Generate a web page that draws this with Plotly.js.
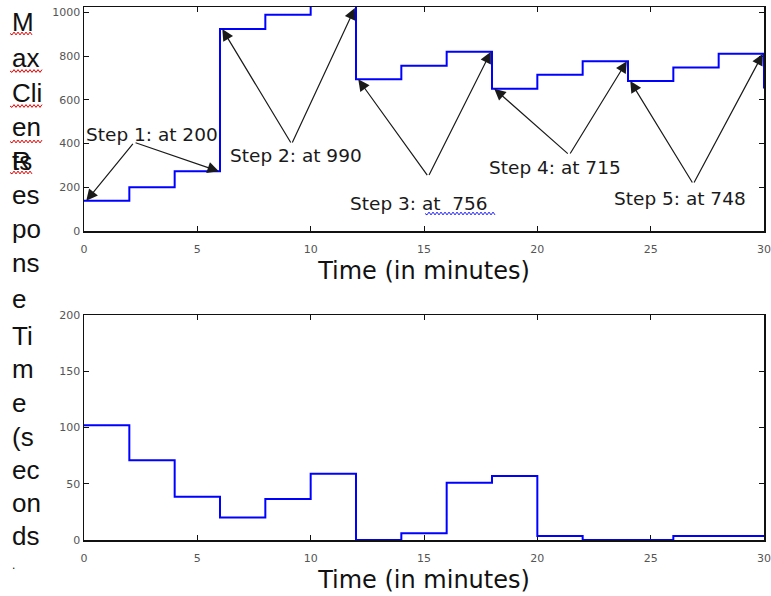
<!DOCTYPE html>
<html>
<head>
<meta charset="utf-8">
<script src="https://cdn.plot.ly/plotly-3.0.1.min.js"></script>
<style>
  html, body { margin: 0; padding: 0; background: #ffffff; }
  #chart { width: 771px; height: 596px; }
</style>
</head>
<body>
<div id="chart"></div>
<script>
// ---------------- data ----------------
const time = [0, 2, 4, 6, 8, 10, 12, 14, 16, 18, 20, 22, 24, 26, 28, 30];
const maxClients = [138, 200, 273, 924, 990, 1060, 694, 756, 820, 651, 715, 777, 686, 748, 811, 652];
const responseTime = [102, 71, 38.5, 20, 36.5, 59, 0, 6, 51, 57, 3.5, 0, 0, 3.5, 3.5, 3.5];
const stepLabels = ['Step 1: at 200', 'Step 2: at 990', 'Step 3: at\u00a0\u00a0756', 'Step 4: at 715', 'Step 5: at 748'];
const timeTicks = [0, 5, 10, 15, 20, 25, 30];
const clientTicks = [0, 200, 400, 600, 800, 1000];
const responseTicks = [0, 50, 100, 150, 200];
const yLabelLines = ['M', 'ax', 'Cli', 'en', 'ts', 'es', 'po', 'ns', 'e', 'Ti', 'm', 'e', '(s', 'ec', 'on', 'ds', '.'];
const xTitle = 'Time (in minutes)';

// ---------------- layout constants ----------------
const W = 771, H = 596;
const M = { l: 84, r: 7, t: 7, b: 56 };
const plotW = W - M.l - M.r, plotH = H - M.t - M.b;
const topRange = [0, 1025];
const botRange = [0, 200];
const stepsPerGroup = 3;

// label text centres and arrow tails (data coords of top subplot)
const labelPosX = [3.02, 9.35, 14.78, 20.78, 26.29];
const labelPosY = [443, 344, 125, 292, 147];
const tailX = [2.21, 9.16, 15.19, 21.41, 26.88];
const tailY = [406, 398, 249, 348, 215];

// left wrapped label: baselines in px, font sizes
const lineBaselines = [31, 67, 102, 136, 170, 204, 238, 272, 308, 345, 378, 412, 446, 479, 512, 545, 569];
const leftFont = 26;
const lastLineFont = 12;

function pxToPaperX(px) { return (px - M.l) / plotW; }
function pxToPaperY(py) { return (H - M.b - py) / plotH; }

function squiggle(x0, x1, y, color) {
  const amp = 1.4, half = 2;
  let d = 'M' + pxToPaperX(x0) + ',' + pxToPaperY(y);
  let k = 0;
  for (let x = x0 + half; x <= x1 + 0.01; x += half) {
    const yy = y + (k % 2 === 0 ? amp : -amp);
    d += ' L' + pxToPaperX(x) + ',' + pxToPaperY(yy);
    k++;
  }
  return { type: 'path', xref: 'paper', yref: 'paper', path: d,
           line: { color: color, width: 1 } };
}

const traces = [
  { x: time, y: maxClients, type: 'scatter', mode: 'lines', line: { shape: 'hv', color: '#0000ff', width: 2 },
    xaxis: 'x', yaxis: 'y', hoverinfo: 'x+y', showlegend: false },
  { x: time, y: responseTime, type: 'scatter', mode: 'lines', line: { shape: 'hv', color: '#0000ff', width: 2 },
    xaxis: 'x2', yaxis: 'y2', hoverinfo: 'x+y', showlegend: false }
];

const annotations = [];
const annFont = { family: 'DejaVu Sans, sans-serif', size: 18.5, color: '#1a1a1a' };
for (let g = 0; g < stepLabels.length; g++) {
  const i0 = g * stepsPerGroup;
  const heads = [
    { x: time[i0] + 0.1, y: Math.min(maxClients[i0], topRange[1] - 5) },
    { x: time[i0 + stepsPerGroup] - 0.05, y: Math.min(maxClients[i0 + stepsPerGroup - 1], topRange[1] - 5) }
  ];
  heads.forEach(h => annotations.push({
    xref: 'x', yref: 'y', axref: 'x', ayref: 'y',
    x: h.x, y: h.y, ax: tailX[g], ay: tailY[g], text: '',
    showarrow: true, arrowhead: 2, arrowsize: 1.9, arrowwidth: 1.2, arrowcolor: '#1a1a1a', standoff: 0
  }));
  annotations.push({
    xref: 'x', yref: 'y', x: labelPosX[g], y: labelPosY[g], text: stepLabels[g],
    showarrow: false, xanchor: 'center', yanchor: 'middle', font: annFont
  });
}

yLabelLines.forEach((t, i) => {
  const isLast = i === yLabelLines.length - 1;
  const size = isLast ? lastLineFont : leftFont;
  const font = { family: 'Liberation Sans, Arial, sans-serif', size: size, color: '#111' };
  const cy = lineBaselines[i] - size * 0.35;
  annotations.push({ xref: 'paper', yref: 'paper', x: pxToPaperX(10), y: pxToPaperY(cy),
    xanchor: 'left', yanchor: 'middle', text: t, showarrow: false, font: font });
  if (t === 'ts') {
    annotations.push({ xref: 'paper', yref: 'paper', x: pxToPaperX(10), y: pxToPaperY(cy),
      xanchor: 'left', yanchor: 'middle', text: 'R', showarrow: false, font: font });
  }
});

const shapes = [
  squiggle(10, 33, 33.5, '#e00000'),
  squiggle(10, 43, 71, '#e00000'),
  squiggle(10, 43, 106, '#e00000'),
  squiggle(10, 43, 141.5, '#e00000'),
  squiggle(10, 33, 172.5, '#e00000'),
  squiggle(425, 495, 213.5, '#2020ff')
];

const tickFont = { family: 'DejaVu Sans, sans-serif', size: 11, color: '#555' };
const titleFont = { family: 'DejaVu Sans, sans-serif', size: 24, color: '#111' };
const axisCommon = {
  showline: true, linecolor: '#111', linewidth: 1.5, mirror: 'ticks',
  ticks: 'inside', ticklen: 5, tickwidth: 1, tickcolor: '#111',
  showgrid: false, zeroline: false, tickfont: tickFont, layer: 'below traces', fixedrange: true
};

const topDomain = [pxToPaperY(231), 1];
const botDomain = [0, pxToPaperY(315)];

const layout = {
  width: W, height: H,
  margin: M,
  paper_bgcolor: '#ffffff', plot_bgcolor: '#ffffff',
  showlegend: false,
  xaxis: Object.assign({}, axisCommon, { anchor: 'y', range: [0, 30], tickvals: timeTicks,
    ticklabelstandoff: 7, title: { text: xTitle, font: titleFont, standoff: 7 } }),
  yaxis: Object.assign({}, axisCommon, { anchor: 'x', domain: topDomain, range: topRange, tickvals: clientTicks }),
  xaxis2: Object.assign({}, axisCommon, { anchor: 'y2', range: [0, 30], tickvals: timeTicks,
    ticklabelstandoff: 7, title: { text: xTitle, font: titleFont, standoff: 7 } }),
  yaxis2: Object.assign({}, axisCommon, { anchor: 'x2', domain: botDomain, range: botRange, tickvals: responseTicks }),
  annotations: annotations,
  shapes: shapes
};

Plotly.newPlot('chart', traces, layout, { displayModeBar: false, staticPlot: true });
</script>
</body>
</html>
